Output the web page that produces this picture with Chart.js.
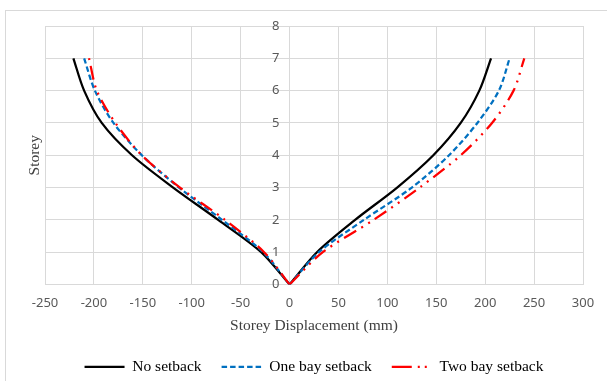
<!DOCTYPE html>
<html>
<head>
<meta charset="utf-8">
<script src="https://cdn.jsdelivr.net/npm/chart.js@4.4.1/dist/chart.umd.min.js"></script>
<style>
  body { margin: 0; background: #fff; }
  #wrap { position: relative; width: 607px; height: 381px; overflow: hidden; }
  #frame { position: absolute; left: 5px; top: 10px; right: -2px; bottom: -2px;
           border-left: 1px solid #d9d9d9; border-top: 1px solid #d9d9d9; }
  #storeyChart { position: absolute; left: 0; top: 0; }
</style>
</head>
<body>
<div id="wrap">
  <div id="frame"></div>
  <canvas id="storeyChart" width="607" height="381"></canvas>
</div>
<script>
// storey levels and displacements (mm), left = negative direction, right = positive
const storeys = [0, 1, 2, 3, 4, 5, 6, 7];
const noSetbackLeft  = [0, -29, -73, -119, -161, -192, -210, -221];
const noSetbackRight = [0, 28, 67, 110, 147, 175, 194, 206];
const oneBayLeft  = [0, -27, -69, -113, -151, -180, -199, -210];
const oneBayRight = [0, 30, 76, 125, 163, 192, 214, 225];
const twoBayLeft  = [0, -26, -66, -112, -151, -178, -197, -205];
const twoBayRight = [0, 34, 86, 133, 175, 207, 229, 240];
const seriesNames = ['No setback', 'One bay setback', 'Two bay setback'];

const xTicks = [-250, -200, -150, -100, -50, 0, 50, 100, 150, 200, 250, 300];
const yTicks = [0, 1, 2, 3, 4, 5, 6, 7, 8];

function toPoints(xs) {
  return xs.map((x, i) => ({ x: x, y: storeys[i] }));
}

const styles = [
  { color: '#000000', dash: [], legendDash: [], order: 2 },
  { color: '#0070c0', dash: [5.5, 3], legendDash: [5.5, 3], order: 1 },
  { color: '#ff0000', dash: [14, 6, 2, 6, 2, 6], legendDash: [20, 6, 2, 5, 2, 5], order: 0 }
];
const halves = [
  [noSetbackLeft, noSetbackRight],
  [oneBayLeft, oneBayRight],
  [twoBayLeft, twoBayRight]
];

// each curve is split at the origin so the V stays sharp
const datasets = [];
halves.forEach((pair, s) => {
  pair.forEach((xs, h) => {
    datasets.push({
      label: h === 0 ? seriesNames[s] : '',
      data: toPoints(xs),
      showLine: true,
      borderColor: styles[s].color,
      backgroundColor: styles[s].color,
      borderDash: styles[s].dash,
      borderWidth: 2.25,
      pointRadius: 0,
      tension: 0.3,
      order: styles[s].order,
      seriesIndex: s
    });
  });
});

const sideTitle = {
  id: 'sideTitle',
  afterDraw(chart) {
    const { ctx, chartArea } = chart;
    ctx.save();
    ctx.translate(35, (chartArea.top + chartArea.bottom) / 2);
    ctx.rotate(-Math.PI / 2);
    ctx.font = '15.5px "Liberation Serif"';
    ctx.fillStyle = '#404040';
    ctx.textAlign = 'center';
    ctx.textBaseline = 'middle';
    ctx.fillText('Storey', 0, 0);
    ctx.restore();
  }
};

const ctx = document.getElementById('storeyChart').getContext('2d');
new Chart(ctx, {
  type: 'scatter',
  data: { datasets: datasets },
  plugins: [sideTitle],
  options: {
    responsive: false,
    animation: false,
    layout: { padding: { left: 45, right: 24, top: 26, bottom: -3.5 } },
    plugins: {
      tooltip: { enabled: false },
      legend: {
        position: 'bottom',
        labels: {
          usePointStyle: true,
          pointStyle: 'line',
          pointStyleWidth: 40,
          padding: 20,
          color: '#000',
          font: { family: '"Liberation Serif"', size: 15.5 },
          // point-style items don't pick up the line dash, so copy it over
          generateLabels: chart => {
            const items = Chart.defaults.plugins.legend.labels.generateLabels(chart);
            items.forEach(item => {
              const st = styles[chart.data.datasets[item.datasetIndex].seriesIndex];
              item.lineDash = st.legendDash;
              item.lineWidth = 2.25;
              item.strokeStyle = st.color;
            });
            return items;
          },
          filter: item => item.text !== '',
          sort: (a, b) => a.datasetIndex - b.datasetIndex
        }
      }
    },
    scales: {
      x: {
        type: 'linear',
        min: xTicks[0],
        max: xTicks[xTicks.length - 1],
        afterBuildTicks: scale => { scale.ticks = xTicks.map(v => ({ value: v })); },
        afterFit: scale => { scale.height = 54.5; },
        grid: { color: '#d9d9d9', drawTicks: false },
        border: { color: '#d9d9d9' },
        ticks: { padding: 11, color: '#595959', font: { family: '"Noto Sans"', size: 13 } },
        title: {
          display: true,
          text: 'Storey Displacement (mm)',
          color: '#404040',
          font: { family: '"Liberation Serif"', size: 15.5 },
          padding: { top: 4, bottom: 4.2 }
        }
      },
      y: {
        type: 'linear',
        position: { x: 0 },
        min: yTicks[0],
        max: yTicks[yTicks.length - 1],
        afterBuildTicks: scale => { scale.ticks = yTicks.map(v => ({ value: v })); },
        grid: { color: '#d9d9d9', drawTicks: false },
        border: { color: '#d9d9d9' },
        ticks: {
          color: '#595959',
          font: { family: '"Noto Sans"', size: 13 },
          // labels sit right-aligned on the zero line; trailing spaces give them a gap
          callback: value => value + '   '
        }
      }
    }
  }
});
</script>
</body>
</html>
